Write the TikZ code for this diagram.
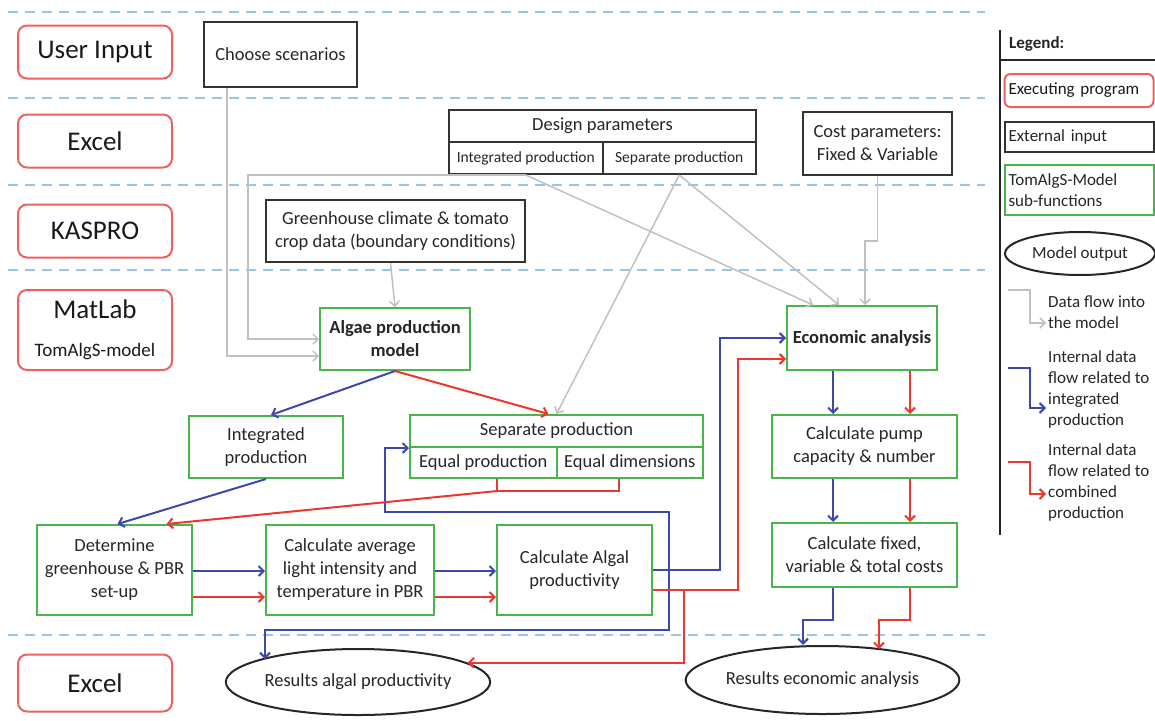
\documentclass[tikz,border=0pt]{standalone}
\usepackage{fontspec}
\setmainfont{Carlito}
\usepackage{tikz}
\usetikzlibrary{shapes.geometric, positioning, arrows.meta, calc}
\usepackage{xcolor}
\definecolor{progred}{RGB}{240,95,95}
\definecolor{subgreen}{RGB}{72,182,76}
\definecolor{laneblue}{RGB}{155,195,230}
\definecolor{intblue}{RGB}{62,72,170}
\definecolor{combred}{RGB}{235,55,45}
\definecolor{flowgray}{RGB}{192,192,192}

\begin{document}
\begin{tikzpicture}[
        x=1pt, y=-1pt,
        font=\fontsize{18.5}{23}\selectfont,
        text=black!85,
        % Define styles for the nodes
        program/.style={rectangle, draw=progred, line width=2pt, rounded corners=9pt, minimum width=154pt, minimum height=53pt, font=\fontsize{27}{30}\selectfont, text=black!90, align=center},
        extin/.style={rectangle, draw=black!80, line width=2pt, inner sep=2pt, align=center},
        subfn/.style={rectangle, draw=subgreen, line width=2pt, inner sep=2pt, align=center},
        result/.style={ellipse, draw=black!85, line width=2pt, inner sep=0pt},
        lane/.style={draw=laneblue, line width=1.5pt, dash pattern=on 10pt off 7pt},
        dataflow/.style={-{Straight Barb[length=5pt, width=10pt]}, draw=flowgray, line width=1.5pt},
        intflow/.style={-{Straight Barb[length=5pt, width=10pt]}, draw=intblue, line width=2pt},
        combflow/.style={-{Straight Barb[length=5pt, width=10pt]}, draw=combred, line width=2pt},
        legtext/.style={font=\fontsize{17}{21}\selectfont, align=left, anchor=west, inner sep=0pt}
    ]
        \useasboundingbox (0,0) rectangle (1155,720);

        % --- Lanes ---
        \foreach \y in {12,98,185,270,635}
            \draw[lane] (8,\y) -- (985,\y);

        % --- Executing programs ---
        \node[program] (userin) at (95,52) {User Input};
        \node[program] (excelA) at (95,141) {Excel};
        \node[program] (kaspro) at (95,231) {KASPRO};
        \node[program, minimum height=80pt] (matlab) at (95,330) {MatLab\\[8pt]{\fontsize{19}{22}\selectfont TomAlgS-model}};
        \node[program, minimum height=57pt] (excelB) at (95,683) {Excel};

        % --- External input ---
        \node[extin, minimum width=153pt, minimum height=65pt] (scen) at (280.5,54.5) {Choose scenarios};
        \node[extin, minimum width=307pt, minimum height=32pt] (designTop) at (602.5,126) {Design parameters};
        \node[extin, minimum width=153.5pt, minimum height=32pt, font=\fontsize{15.5}{18}\selectfont] (designInt) at (525.75,158) {Integrated production};
        \node[extin, minimum width=153.5pt, minimum height=32pt, font=\fontsize{15.5}{18}\selectfont] (designSep) at (679.25,158) {Separate production};
        \node[extin, minimum width=149pt, minimum height=63pt] (cost) at (877.5,143.5) {Cost parameters:\\Fixed \& Variable};
        \node[extin, minimum width=259pt, minimum height=62pt] (gh) at (395.5,231) {Greenhouse climate \& tomato\\crop data (boundary conditions)};

        % --- TomAlgS sub-functions ---
        \node[subfn, minimum width=150pt, minimum height=62pt, font=\fontsize{18.5}{23}\selectfont\bfseries] (algae) at (395,339) {Algae production\\model};
        \node[subfn, minimum width=150pt, minimum height=64pt, font=\fontsize{18.5}{23}\selectfont\bfseries] (econ) at (862,338) {Economic analysis};
        \node[subfn, minimum width=154pt, minimum height=62pt] (integ) at (266,447) {Integrated\\production};
        \node[subfn, minimum width=293pt, minimum height=32pt] (sepTop) at (556.5,431) {Separate production};
        \node[subfn, minimum width=146.5pt, minimum height=31pt] (sepEqP) at (483.25,462.5) {Equal production};
        \node[subfn, minimum width=146.5pt, minimum height=31pt] (sepEqD) at (629.75,462.5) {Equal dimensions};
        \node[subfn, minimum width=185pt, minimum height=63pt] (pump) at (864.5,446.5) {Calculate pump\\capacity \& number};
        \node[subfn, minimum width=155pt, minimum height=90pt] (det) at (114.5,570) {Determine\\greenhouse \& PBR\\set-up};
        \node[subfn, minimum width=168pt, minimum height=90pt] (avg) at (350,570) {Calculate average\\light intensity and\\temperature in PBR};
        \node[subfn, minimum width=155pt, minimum height=90pt] (alg) at (574.5,570) {Calculate Algal\\productivity};
        \node[subfn, minimum width=185pt, minimum height=64pt] (fixed) at (864.5,555) {Calculate fixed,\\variable \& total costs};

        % --- Model output ---
        \node[result, minimum width=252pt, minimum height=66pt] (resAlg) at (358,682) {Results algal productivity};
        \node[result, minimum width=256pt, minimum height=68pt] (resEco) at (822.5,680) {Results economic analysis};

        % --- Edges ---
        % 1. Data flow into the model
        \draw[dataflow] ([xshift=-53.5pt]scen.south) |- ([yshift=-17pt]algae.west);
        \draw[dataflow] (designInt.south) -- ++(-278,0) |- (algae.west);
        \draw[dataflow] ([xshift=-5pt]gh.south) -- (algae.north);
        \draw[dataflow] (designInt.south) -- ([xshift=-49pt]econ.north);
        \draw[dataflow] (designSep.south) -- ([xshift=-23pt]econ.north);
        \draw[dataflow] (designSep.south) -- (sepTop.north);
        \draw[dataflow] (cost.south) -- ++(0,65) -| ([xshift=3pt]econ.north);

        % 2. Integrated production
        \draw[intflow] (algae.south) -- ([xshift=5pt]integ.north);
        \draw[intflow] (integ.south) -- ([xshift=3pt]det.north);
        \draw[intflow] ([yshift=-1pt]det.east) -- ([yshift=-1pt]avg.west);
        \draw[intflow] ([yshift=-1pt]avg.east) -- ([yshift=-1pt]alg.west);
        \draw[intflow] (alg.east) -- ++(67,0) |- (econ.west);
        \draw[intflow] ([xshift=16pt]alg.east) -- ++(0,-58) -| ([xshift=-24pt]sepTop.south west) -- (sepTop.south west);
        \draw[intflow] ([xshift=16pt]alg.east) -- ++(0,60) -| ([xshift=-93pt,yshift=23pt]resAlg.center);
        \draw[intflow] ([xshift=-29pt]econ.south) -- ([xshift=-31.5pt]pump.north);
        \draw[intflow] ([xshift=-31.5pt]pump.south) -- ([xshift=-31.5pt]fixed.north);
        \draw[intflow] ([xshift=-31.5pt]fixed.south) -- ++(0,32) -| ([xshift=-19.5pt]resEco.north);

        % 3. Combined production
        \draw[combflow] (algae.south) -- ([xshift=-8pt]sepTop.north);
        \draw[combflow, -] ([xshift=14pt]sepEqP.south) -- ++(0,12) -| ([xshift=-11pt]sepEqD.south);
        \draw[combflow] ([xshift=14pt,yshift=-12pt]sepEqP.south) -- ([xshift=52pt]det.north);
        \draw[combflow] ([yshift=-27pt]det.east) -- ([yshift=-27pt]avg.west);
        \draw[combflow] ([yshift=-27pt]avg.east) -- ([yshift=-27pt]alg.west);
        \draw[combflow] ([yshift=-20pt]alg.east) -- ++(85,0) |- ([yshift=-21pt]econ.west);
        \draw[combflow] ([xshift=31pt,yshift=-20pt]alg.east) |- (resAlg.10);
        \draw[combflow] ([xshift=48pt]econ.south) -- ([xshift=45.5pt]pump.north);
        \draw[combflow] ([xshift=45.5pt]pump.south) -- ([xshift=45.5pt]fixed.north);
        \draw[combflow] ([xshift=45.5pt]fixed.south) -- ++(0,32) -| ([xshift=56.5pt,yshift=-4pt]resEco.north);

        % --- Legend ---
        \draw[line width=1.5pt, black!85] (1000,30) -- (1000,535);
        \draw[line width=2.5pt, black!85] (1000,60) -- (1155,60);
        \node[legtext, font=\fontsize{17}{21}\selectfont\bfseries] (legHead) at (1009,44) {Legend:};
        \node[program, rounded corners=6pt, minimum width=0pt, minimum height=33pt, inner sep=4pt, text width=141pt, align=left, font=\fontsize{17}{21}\selectfont] (legProg) at (1079,90.5) {Executing program};
        \node[extin, minimum height=30pt, inner sep=4pt, text width=141pt, align=left, font=\fontsize{17}{21}\selectfont] (legExt) at (1079,137) {External input};
        \node[subfn, minimum height=50pt, inner sep=4pt, text width=141pt, align=left, font=\fontsize{17}{21}\selectfont] (legSub) at (1079,190) {TomAlgS-Model\\sub-functions};
        \node[result, minimum width=150pt, minimum height=43pt, font=\fontsize{17}{21}\selectfont] (legOut) at (1080,253.5) {Model output};

        \coordinate (lgData) at (1008,290);
        \coordinate (lgInt) at (1008,368);
        \coordinate (lgComb) at (1008,462);
        \draw[dataflow] (lgData) -| ++(22,33) -- ++(16,0);
        \draw[intflow] (lgInt) -| ++(22,40) -- ++(16,0);
        \draw[combflow] (lgComb) -| ++(22,32) -- ++(16,0);
        \node[legtext] (legDataTxt) at (1048,312.5) {Data flow into\\the model};
        \node[legtext] (legIntTxt) at (1048,389) {Internal data\\flow related to\\integrated\\production};
        \node[legtext] (legCombTxt) at (1048,482.5) {Internal data\\flow related to\\combined\\production};

    \end{tikzpicture}
\end{document}
